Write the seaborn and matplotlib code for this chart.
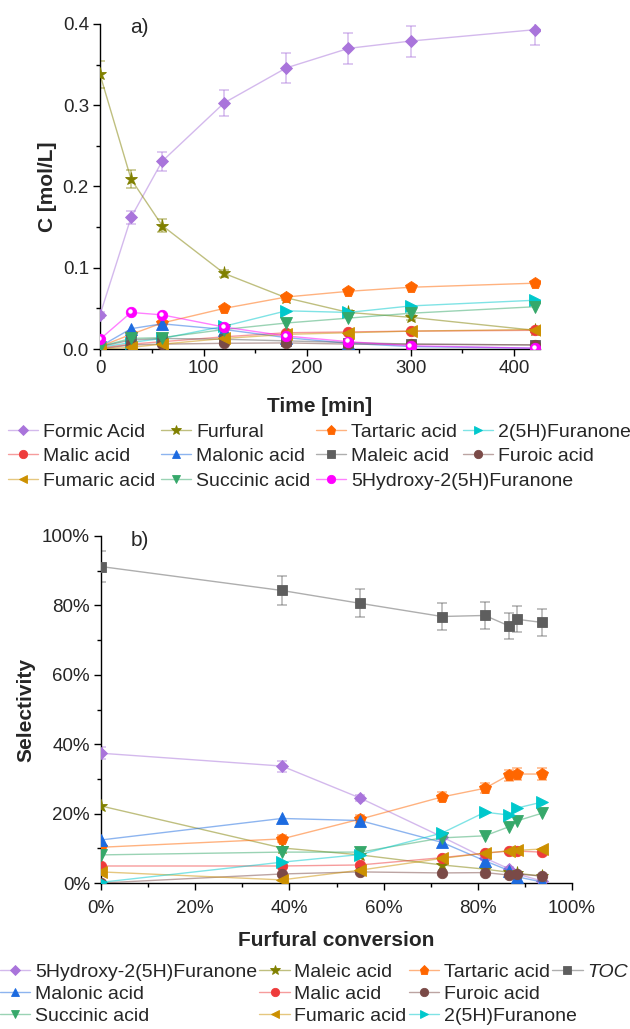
import numpy as np
import pandas as pd
import matplotlib
matplotlib.use("Agg")
import matplotlib.pyplot as plt
import seaborn as sns
from matplotlib.lines import Line2D
from matplotlib.colors import to_rgba
from matplotlib.ticker import MultipleLocator, PercentFormatter, FormatStrFormatter
from matplotlib import transforms

# ---------------- data: panel a (concentration vs time) ----------------
TIME_MIN = [0, 30, 60, 120, 180, 240, 300, 420]
A_FORMIC = [0.042, 0.162, 0.231, 0.303, 0.346, 0.370, 0.379, 0.393]
A_FORMIC_ERR = [0.004, 0.008, 0.012, 0.016, 0.018, 0.019, 0.019, 0.019]
A_FURFURAL = [0.338, 0.209, 0.152, 0.093, 0.063, 0.045, 0.039, 0.023]
A_FURFURAL_ERR = [0.017, 0.011, 0.008, 0.004, 0.003, 0.003, 0.003, 0.002]
A_TARTARIC = [0.003, 0.018, 0.032, 0.050, 0.064, 0.071, 0.076, 0.081]
A_FURANONE = [0.002, 0.008, 0.013, 0.028, 0.047, 0.045, 0.053, 0.060]
A_MALIC = [0.001, 0.006, 0.009, 0.015, 0.020, 0.021, 0.022, 0.023]
A_MALONIC = [0.003, 0.025, 0.031, 0.024, 0.014, 0.007, 0.003, 0.001]
A_MALEIC = [0.003, 0.011, 0.013, 0.012, 0.010, 0.008, 0.006, 0.005]
A_FUROIC = [0.000, 0.005, 0.006, 0.007, 0.0075, 0.006, 0.006, 0.005]
A_FUMARIC = [0.000, 0.002, 0.006, 0.013, 0.018, 0.020, 0.022, 0.024]
A_SUCCINIC = [0.003, 0.013, 0.014, 0.024, 0.032, 0.038, 0.044, 0.052]
A_HYDROXY = [0.012, 0.045, 0.042, 0.027, 0.016, 0.009, 0.004, 0.001]

# ---------------- data: panel b (selectivity vs conversion, %) ----------------
CONVERSION = [0.0, 38.4, 55.0, 72.4, 81.5, 86.6, 88.3, 93.6]
B_HYDROXY = [37.4, 33.7, 24.5, 13.3, 7.2, 4.1, 2.6, 0.6]
B_HYDROXY_ERR = [1.8, 1.6, 1.0, 0.6, 0.5, 0.5, 0.4, 0.3]
B_MALEIC = [22.2, 10.1, 8.1, 5.2, 4.0, 3.1, 2.8, 2.0]
B_TARTARIC = [10.3, 12.7, 18.4, 24.8, 27.3, 31.1, 31.4, 31.4]
B_TARTARIC_ERR = [0.8, 1.0, 1.2, 1.3, 1.4, 1.6, 1.6, 1.6]
B_TOC = [91.2, 84.3, 80.6, 76.8, 77.1, 74.1, 76.0, 75.1]
B_TOC_ERR = [4.6, 4.2, 4.0, 3.9, 3.9, 3.7, 3.8, 3.8]
B_MALONIC = [12.4, 18.6, 18.0, 11.7, 6.4, 3.6, 1.8, 0.3]
B_MALIC = [4.9, 4.9, 5.2, 7.3, 8.6, 9.2, 9.2, 8.9]
B_FUROIC = [0.0, 2.6, 3.2, 2.9, 3.0, 2.3, 2.6, 2.0]
B_SUCCINIC = [8.1, 8.9, 8.9, 13.0, 13.6, 16.2, 17.9, 20.1]
B_FUMARIC = [3.2, 0.9, 3.7, 7.1, 8.6, 9.3, 9.4, 9.8]
B_FURANONE = [0.2, 6.0, 8.2, 14.4, 20.4, 19.6, 21.6, 23.3]

# ---------------- style ----------------
sns.set_style("ticks")
plt.rcParams["font.family"] = ["Liberation Sans", "DejaVu Sans"]

PURPLE = "#A974DB"
OLIVE = "#808000"
ORANGE = "#FF6600"
CYAN = "#00C8CC"
RED = "#EE3B3B"
BLUE = "#1C6BE0"
GRAY = "#5E5E5E"
BROWN = "#7A4A47"
GOLD = "#CC9000"
GREEN = "#36A86A"
MAGENTA = "#FF00FF"

W, H = 630, 1029
fig = plt.figure(figsize=(W / 100, H / 100), dpi=100)
axA = fig.add_axes([100 / W, 1 - 349 / H, 440 / W, 325 / H])
axB = fig.add_axes([101 / W, 1 - 883 / H, 471 / W, 347 / H])

TICK_FS = 13.5
LAB_FS = 15
LEG_FS = 14


def draw(ax, x, y, color, marker, ms, label, err=None, z=3):
    df = pd.DataFrame({"x": x, "y": y})
    if err is not None:
        ax.errorbar(x, y, yerr=err, fmt="none", ecolor=to_rgba(color, 0.45),
                    elinewidth=1.2, capsize=3.5, capthick=1.2, zorder=z - 0.5)
    sns.lineplot(data=df, x="x", y="y", ax=ax, color=to_rgba(color, 0.5),
                 lw=1.0, marker=marker, markersize=ms, markerfacecolor=color,
                 markeredgecolor=color, markeredgewidth=0.6, label=label,
                 legend=False, estimator=None, sort=False, zorder=z)
    return ax.lines[-1]


# ---------------- panel a ----------------
hA = {}
hA["Formic Acid"] = draw(axA, TIME_MIN, A_FORMIC, PURPLE, "D", 6.5, "Formic Acid", A_FORMIC_ERR)
hA["Furfural"] = draw(axA, TIME_MIN, A_FURFURAL, OLIVE, "*", 9.5, "Furfural", A_FURFURAL_ERR)
hA["Tartaric acid"] = draw(axA, TIME_MIN, A_TARTARIC, ORANGE, "p", 8.5, "Tartaric acid")
hA["2(5H)Furanone"] = draw(axA, TIME_MIN, A_FURANONE, CYAN, ">", 8, "2(5H)Furanone")
hA["Malic acid"] = draw(axA, TIME_MIN, A_MALIC, RED, "o", 7.5, "Malic acid")
hA["Malonic acid"] = draw(axA, TIME_MIN, A_MALONIC, BLUE, "^", 8, "Malonic acid")
hA["Maleic acid"] = draw(axA, TIME_MIN, A_MALEIC, GRAY, "s", 6.5, "Maleic acid")
hA["Furoic acid"] = draw(axA, TIME_MIN, A_FUROIC, BROWN, "o", 7.5, "Furoic acid")
hA["Fumaric acid"] = draw(axA, TIME_MIN, A_FUMARIC, GOLD, "<", 8, "Fumaric acid")
hA["Succinic acid"] = draw(axA, TIME_MIN, A_SUCCINIC, GREEN, "v", 8, "Succinic acid")
hA["5Hydroxy-2(5H)Furanone"] = draw(axA, TIME_MIN, A_HYDROXY, MAGENTA, "o", 7.5,
                                    "5Hydroxy-2(5H)Furanone", z=4)
# white highlight on the magenta spheres
hl = transforms.offset_copy(axA.transData, fig=fig, x=-1.2, y=1.2, units="dots")
axA.plot(TIME_MIN, A_HYDROXY, ls="none", marker="o", ms=2.2, mfc="white",
         mec="white", transform=hl, zorder=4.5)

axA.set_xlim(0, 425)
axA.set_ylim(0, 0.4)
axA.xaxis.set_major_locator(MultipleLocator(100))
axA.xaxis.set_minor_locator(MultipleLocator(50))
axA.yaxis.set_major_locator(MultipleLocator(0.1))
axA.yaxis.set_minor_locator(MultipleLocator(0.05))
axA.yaxis.set_major_formatter(FormatStrFormatter("%.1f"))
axA.set_xlabel("Time [min]", fontsize=LAB_FS, fontweight="bold", labelpad=14)
axA.set_ylabel("C [mol/L]", fontsize=LAB_FS, fontweight="bold", labelpad=4)
axA.text(0.068, 0.99, "a)", transform=axA.transAxes, fontsize=15, va="center", ha="left")

# ---------------- panel b ----------------
hB = {}
hB["5Hydroxy-2(5H)Furanone"] = draw(axB, CONVERSION, B_HYDROXY, PURPLE, "D", 6.5,
                                    "5Hydroxy-2(5H)Furanone", B_HYDROXY_ERR)
hB["Maleic acid"] = draw(axB, CONVERSION, B_MALEIC, OLIVE, "*", 9.5, "Maleic acid")
hB["Tartaric acid"] = draw(axB, CONVERSION, B_TARTARIC, ORANGE, "p", 8.5, "Tartaric acid", B_TARTARIC_ERR)
hB["TOC"] = draw(axB, CONVERSION, B_TOC, GRAY, "s", 6.5, "TOC", B_TOC_ERR)
hB["Malonic acid"] = draw(axB, CONVERSION, B_MALONIC, BLUE, "^", 8, "Malonic acid")
hB["Malic acid"] = draw(axB, CONVERSION, B_MALIC, RED, "o", 7.5, "Malic acid")
hB["Furoic acid"] = draw(axB, CONVERSION, B_FUROIC, BROWN, "o", 7.5, "Furoic acid")
hB["Succinic acid"] = draw(axB, CONVERSION, B_SUCCINIC, GREEN, "v", 8, "Succinic acid")
hB["Fumaric acid"] = draw(axB, CONVERSION, B_FUMARIC, GOLD, "<", 8, "Fumaric acid")
hB["2(5H)Furanone"] = draw(axB, CONVERSION, B_FURANONE, CYAN, ">", 8, "2(5H)Furanone")

axB.set_xlim(0, 100)
axB.set_ylim(0, 100)
for axis in (axB.xaxis, axB.yaxis):
    axis.set_major_locator(MultipleLocator(20))
    axis.set_minor_locator(MultipleLocator(10))
    axis.set_major_formatter(PercentFormatter(100, decimals=0))
axB.set_xlabel("Furfural conversion", fontsize=LAB_FS, fontweight="bold", labelpad=10)
axB.set_ylabel("Selectivity", fontsize=LAB_FS, fontweight="bold", labelpad=5)
axB.text(0.062, 0.986, "b)", transform=axB.transAxes, fontsize=15, va="center", ha="left")

for ax in (axA, axB):
    sns.despine(ax=ax)
    for s in ("left", "bottom"):
        ax.spines[s].set_color("black")
        ax.spines[s].set_linewidth(1.0)
    ax.tick_params(which="major", length=5, width=1, color="black",
                   labelsize=TICK_FS, pad=3, direction="out")
    ax.tick_params(which="minor", length=3, width=1, color="black", direction="out")
axB.tick_params(axis="x", which="major", pad=7)

# ---------------- legends ----------------
HL, HTP = 1.55, 0.25
blank = Line2D([], [], color="none", marker="")


def legend(handles, labels, anchor, colsp, lsp):
    return fig.legend(handles, labels, loc="upper left", bbox_to_anchor=anchor,
                      ncol=4, frameon=False, fontsize=LEG_FS, borderpad=0,
                      borderaxespad=0, handlelength=HL, handletextpad=HTP,
                      columnspacing=colsp, labelspacing=lsp, markerscale=0.8)


orderA = ["Formic Acid", "Malic acid", "Fumaric acid",
          "Furfural", "Malonic acid", "Succinic acid",
          "Tartaric acid", "Maleic acid", None,
          "2(5H)Furanone", "Furoic acid", None]
legA = legend([hA[k] if k else blank for k in orderA], [k if k else "" for k in orderA],
              (8 / W, 1 - 423 / H), 0.3, 0.36)

orderB = ["5Hydroxy-2(5H)Furanone", "Malonic acid", "Succinic acid",
          "Maleic acid", "Malic acid", "Fumaric acid",
          "Tartaric acid", "Furoic acid", None,
          "TOC", None, None]
legB = legend([hB[k] if k else blank for k in orderB], [k if k else "" for k in orderB],
              (0 / W, 1 - 963 / H), 0.12, 0.24)
for t in legB.get_texts():
    if t.get_text() == "TOC":
        t.set_fontstyle("italic")


def overflow(leg1, col_ref, row_ref, handle, label):
    fig.canvas.draw()
    r = fig.canvas.get_renderer()
    texts = {t.get_text(): t for t in leg1.get_texts()}
    tx = texts[col_ref].get_window_extent(r)
    ty = texts[row_ref].get_window_extent(r)
    fspx = LEG_FS * fig.dpi / 72
    x0 = tx.x0 - (HL + HTP) * fspx
    leg2 = fig.legend([handle], [label], loc="upper left",
                      bbox_to_anchor=(x0 / W, ty.y1 / H), frameon=False,
                      fontsize=LEG_FS, borderpad=0, borderaxespad=0,
                      handlelength=HL, handletextpad=HTP, markerscale=0.8)
    fig.canvas.draw()
    t2 = leg2.get_texts()[0].get_window_extent(r)
    dx, dy = tx.x0 - t2.x0, ty.y1 - t2.y1
    leg2.set_bbox_to_anchor(((x0 + dx) / W, (ty.y1 + dy) / H), transform=fig.transFigure)
    return leg2


overflow(legA, "Maleic acid", "Fumaric acid", hA["5Hydroxy-2(5H)Furanone"], "5Hydroxy-2(5H)Furanone")
overflow(legB, "Furoic acid", "Fumaric acid", hB["2(5H)Furanone"], "2(5H)Furanone")

fig.savefig("out.png", dpi=100)
